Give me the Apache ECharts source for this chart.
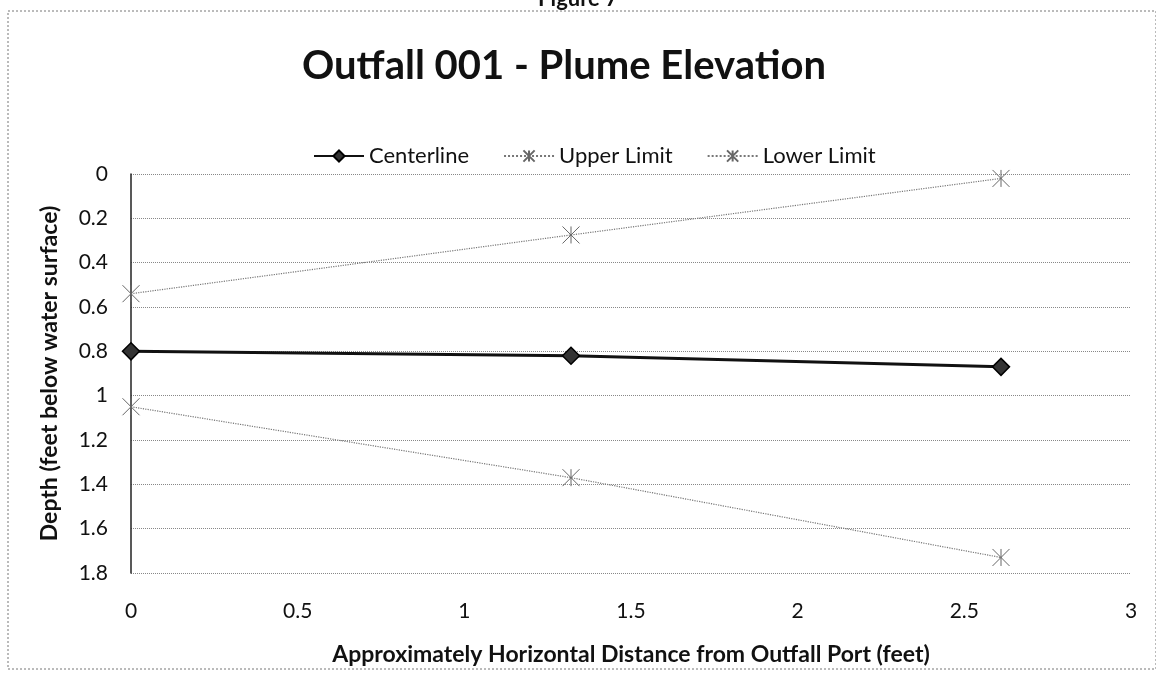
<!DOCTYPE html>
<html>
<head>
<meta charset="utf-8">
<script src="https://cdn.jsdelivr.net/npm/echarts@6/dist/echarts.min.js"></script>
<style>
  html, body { margin: 0; padding: 0; background: #fff; }
  #chart { width: 1156px; height: 690px; }
</style>
</head>
<body>
<div id="chart"></div>
<script>
// distances (feet) and depths
const distance = [0, 1.32, 2.61];
const centerline = [0.80, 0.82, 0.87];
const upperLimit = [0.54, 0.275, 0.02];
const lowerLimit = [1.05, 1.37, 1.73];
const seriesNames = ['Centerline', 'Upper Limit', 'Lower Limit'];

const chart = echarts.init(document.getElementById('chart'));
const font = 'Lato, "Open Sans", sans-serif';
const starPath = 'path://M0,0L10,10M10,0L0,10M5,0L5,10';

function pairs(ys) {
  return distance.map(function (x, i) { return [x, ys[i]]; });
}

var option = {
  backgroundColor: '#fff',
  animation: false,
  textStyle: { fontFamily: font, color: '#000' },
  title: {
    text: 'Outfall 001 - Plume Elevation',
    left: 297,
    top: 41,
    textStyle: { fontFamily: font, fontSize: 40, fontWeight: 'bold', color: '#111' }
  },
  legend: {
    top: 140,
    left: 308,
    itemWidth: 50,
    itemHeight: 14,
    itemGap: 34,
    textStyle: { fontFamily: font, fontSize: 22, color: '#111' },
    data: seriesNames
  },
  grid: { left: 131, right: 25, top: 174, bottom: 117 },
  xAxis: {
    type: 'value',
    min: 0,
    max: 3,
    interval: 0.5,
    name: 'Approximately Horizontal Distance from Outfall Port (feet)',
    nameLocation: 'middle',
    nameGap: 70,
    nameTextStyle: { fontFamily: font, fontSize: 23, fontWeight: 'bold', color: '#111' },
    axisLine: { show: false },
    axisTick: { show: false },
    splitLine: { show: false },
    axisLabel: { margin: 28, fontSize: 21, color: '#111', fontFamily: font }
  },
  yAxis: {
    type: 'value',
    inverse: true,
    min: 0,
    max: 1.8,
    interval: 0.2,
    name: 'Depth (feet below water surface)',
    nameLocation: 'middle',
    nameGap: 70,
    nameTextStyle: { fontFamily: font, fontSize: 23, fontWeight: 'bold', color: '#111' },
    axisLine: { show: true, lineStyle: { color: '#222', width: 1.5 } },
    axisTick: { show: false },
    splitLine: { show: true, lineStyle: { color: '#888', type: 'dotted', width: 1 } },
    axisLabel: { margin: 23, fontSize: 21, color: '#111', fontFamily: font }
  },
  graphic: [
    {
      type: 'rect',
      shape: { x: 8, y: 11, width: 1148, height: 658 },
      style: { fill: 'none', stroke: '#777', lineWidth: 1, lineDash: [2, 2] }
    },
    {
      type: 'text',
      left: 'center',
      top: -12,
      style: { text: 'Figure 7', font: 'bold 22px ' + font, fill: '#111' }
    }
  ],
  series: [
    {
      name: seriesNames[0],
      type: 'line',
      data: pairs(centerline),
      symbol: 'diamond',
      symbolSize: 17,
      lineStyle: { color: '#111', width: 3 },
      itemStyle: { color: '#333', borderColor: '#000', borderWidth: 1.5 },
      z: 5
    },
    {
      name: seriesNames[1],
      type: 'line',
      data: pairs(upperLimit),
      symbol: starPath,
      symbolSize: 17,
      lineStyle: { color: '#777', width: 1.2, type: 'dotted' },
      itemStyle: { color: 'rgba(0,0,0,0)', borderColor: '#666', borderWidth: 1 }
    },
    {
      name: seriesNames[2],
      type: 'line',
      data: pairs(lowerLimit),
      symbol: starPath,
      symbolSize: 17,
      lineStyle: { color: '#777', width: 1.2, type: 'dotted' },
      itemStyle: { color: 'rgba(0,0,0,0)', borderColor: '#666', borderWidth: 1 }
    }
  ]
};

chart.setOption(option);
</script>
</body>
</html>
